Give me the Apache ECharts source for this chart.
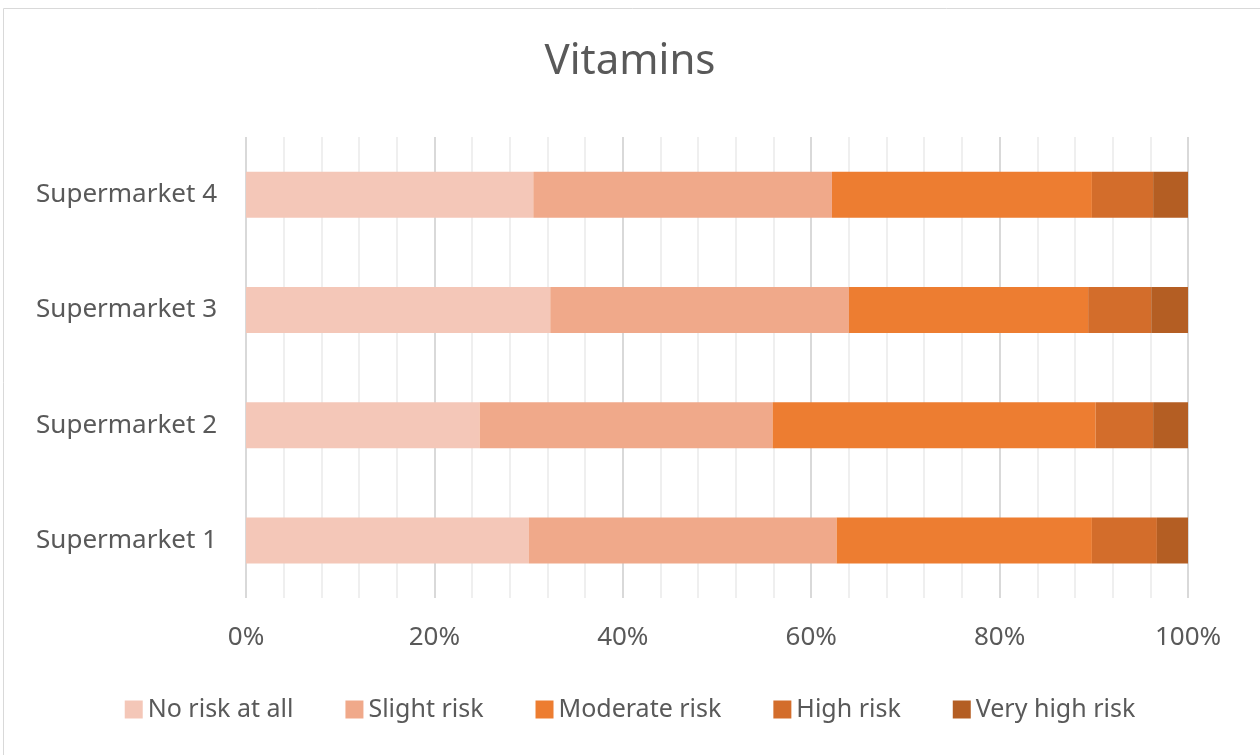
<!DOCTYPE html>
<html>
<head>
<meta charset="utf-8">
<script src="https://cdn.jsdelivr.net/npm/echarts@6/dist/echarts.min.js"></script>
<style>
  html, body { margin: 0; padding: 0; background: #fff; }
  #main { width: 1260px; height: 755px; }
</style>
</head>
<body>
<div id="main"></div>
<script>
// 类目
const stores = ['Supermarket 1', 'Supermarket 2', 'Supermarket 3', 'Supermarket 4']
// 各风险等级占比 (%)
const noRisk = [30.0, 24.8, 32.3, 30.5]
const slightRisk = [32.7, 31.1, 31.7, 31.7]
const moderateRisk = [27.1, 34.3, 25.4, 27.6]
const highRisk = [6.9, 6.1, 6.7, 6.5]
const veryHighRisk = [3.3, 3.7, 3.9, 3.7]
const levelNames = ['No risk at all', 'Slight risk', 'Moderate risk', 'High risk', 'Very high risk']
const levelColors = ['#F4C7B8', '#F0A98A', '#ED7D31', '#D36D2B', '#B45E23']

const font = '"Noto Sans", "Open Sans", sans-serif'
const dom = document.querySelector('#main')
const myChart = echarts.init(dom)

const levels = [noRisk, slightRisk, moderateRisk, highRisk, veryHighRisk]

const option = {
  animation: false,
  textStyle: { fontFamily: font },
  // 外框
  graphic: [{
    type: 'rect',
    shape: { x: 3.5, y: 8.5, width: 1300, height: 800 },
    style: { fill: 'none', stroke: '#D9D9D9', lineWidth: 1 },
    silent: true
  }],
  title: {
    text: 'Vitamins',
    left: 'center',
    top: 36,
    textStyle: { fontFamily: font, fontSize: 42, fontWeight: 'normal', color: '#595959' }
  },
  legend: {
    bottom: 28,
    left: 'center',
    icon: 'rect',
    itemWidth: 18,
    itemHeight: 18,
    itemGap: 52,
    textStyle: { fontFamily: font, fontSize: 25, color: '#595959' },
    data: levelNames
  },
  grid: {
    left: 246,
    right: 72,
    top: 137,
    bottom: 157
  },
  xAxis: {
    type: 'value',
    min: 0,
    max: 100,
    interval: 20,
    axisLine: { show: false },
    axisTick: { show: false },
    axisLabel: {
      formatter: '{value}%',
      margin: 27,
      fontFamily: font,
      fontSize: 26,
      color: '#595959'
    },
    splitLine: { lineStyle: { color: '#D9D9D9', width: 2 } },
    minorTick: { show: false, splitNumber: 5 },
    minorSplitLine: { show: true, lineStyle: { color: '#EFEFEF', width: 2 } }
  },
  yAxis: {
    type: 'category',
    data: stores,
    axisLine: { show: false },
    axisTick: { show: false },
    axisLabel: {
      margin: 29,
      fontFamily: font,
      fontSize: 26,
      color: '#595959'
    }
  },
  series: levels.map((vals, i) => ({
    name: levelNames[i],
    type: 'bar',
    stack: 'total',
    barWidth: 46,
    itemStyle: { color: levelColors[i] },
    data: vals
  }))
}

myChart.setOption(option)
</script>
</body>
</html>
